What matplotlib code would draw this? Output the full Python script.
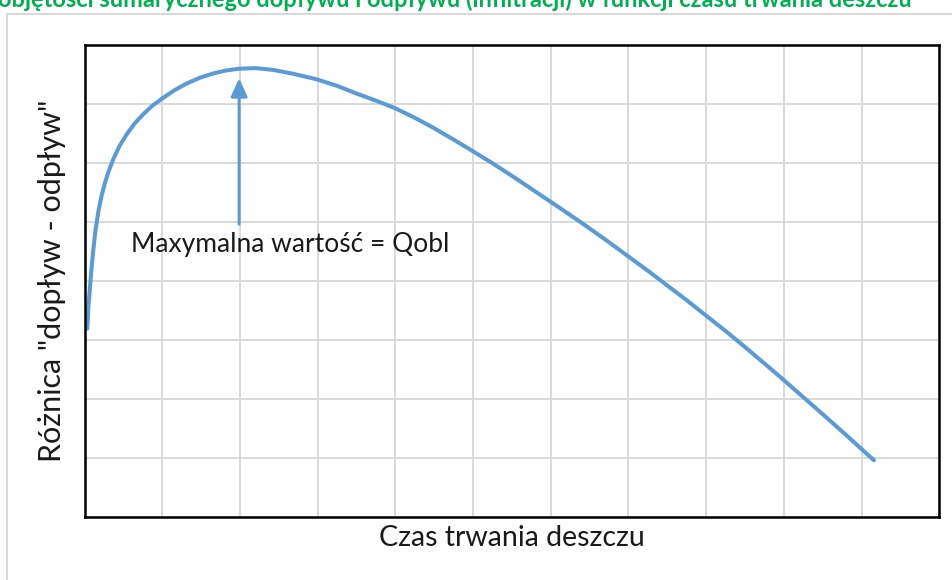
import matplotlib.pyplot as plt
from matplotlib.patches import Rectangle

plt.rcParams['font.family'] = ['Lato', 'DejaVu Sans']

# czas trwania deszczu (jednostki siatki) i różnica dopływ - odpływ
czas = [0.036, 0.05, 0.071, 0.09, 0.113, 0.14, 0.178, 0.22, 0.264, 0.31,
        0.371, 0.45, 0.543, 0.65, 0.757, 0.87, 0.994, 1.15, 1.315, 1.49,
        1.658, 1.82, 1.992, 2.2, 2.43, 2.7, 2.99, 3.25, 3.50, 3.75, 4.00,
        4.25, 4.49, 4.75, 4.99, 5.25, 5.52, 5.86, 6.12, 6.42, 6.70, 6.99,
        7.25, 7.49, 7.75, 7.99, 8.25, 8.48, 8.75, 8.99, 9.25, 9.51, 9.80,
        10.16]
roznica = [3.19, 3.55, 3.90, 4.20, 4.52, 4.84, 5.17, 5.44, 5.66, 5.85,
           6.06, 6.28, 6.48, 6.67, 6.82, 6.96, 7.08, 7.22, 7.34, 7.44,
           7.51, 7.56, 7.59, 7.60, 7.57, 7.50, 7.41, 7.30, 7.17, 7.05, 6.92,
           6.76, 6.59, 6.39, 6.20, 5.99, 5.76, 5.46, 5.23, 4.96, 4.70, 4.42,
           4.17, 3.93, 3.67, 3.42, 3.15, 2.90, 2.60, 2.33, 2.03, 1.73, 1.39,
           0.96]

x_ticks = list(range(0, 12))
y_ticks = list(range(0, 9))

t_max = 1.99          # położenie maksimum
strzalka_od = 4.96
strzalka_do = 7.43

tytul = ("Różnica objętości sumarycznego dopływu i odpływu (infiltracji) "
         "w funkcji czasu trwania deszczu")

fig = plt.figure(figsize=(9.52, 5.8), dpi=100)

# ramka obszaru wykresu
fig.patches.append(Rectangle((7 / 952, -0.1), 1.1, 1 - 14 / 580 + 0.1,
                             transform=fig.transFigure, fill=False,
                             edgecolor='#D9D9D9', linewidth=1.5))

fig.text(912 / 952, 1 - 7 / 580, tytul, ha='right', va='baseline',
         fontsize=17, fontweight='bold', color='#00B050')

ax = fig.add_axes([84.5 / 952, 63 / 580, 854.7 / 952, 472.5 / 580])
ax.set_xlim(x_ticks[0], x_ticks[-1])
ax.set_ylim(y_ticks[0], y_ticks[-1])
ax.set_xticks(x_ticks)
ax.set_yticks(y_ticks)
ax.grid(True, color='#D9D9D9', linewidth=1.4)
ax.set_axisbelow(True)
ax.tick_params(length=0, labelbottom=False, labelleft=False)
for s in ax.spines.values():
    s.set_linewidth(1.8)
    s.set_color('black')

ax.plot(czas, roznica, color='#5B9BD5', linewidth=2.9,
        solid_capstyle='round', solid_joinstyle='round', clip_on=False)

ax.annotate('', xy=(t_max, strzalka_do), xytext=(t_max, strzalka_od),
            arrowprops=dict(arrowstyle='-|>,head_length=1.1,head_width=0.5',
                            color='#5B9BD5', linewidth=2.2,
                            shrinkA=0, shrinkB=0))
ax.text(0.6, 4.62, 'Maxymalna wartość = Qobl', fontsize=19,
        ha='left', va='center', color='#1a1a1a')

ax.set_xlabel('Czas trwania deszczu', fontsize=20.5, labelpad=6,
              color='#1a1a1a')
ax.set_ylabel('Różnica "dopływ - odpływ"', fontsize=22, labelpad=13,
              color='#1a1a1a')

fig.savefig('out.png', dpi=100)
